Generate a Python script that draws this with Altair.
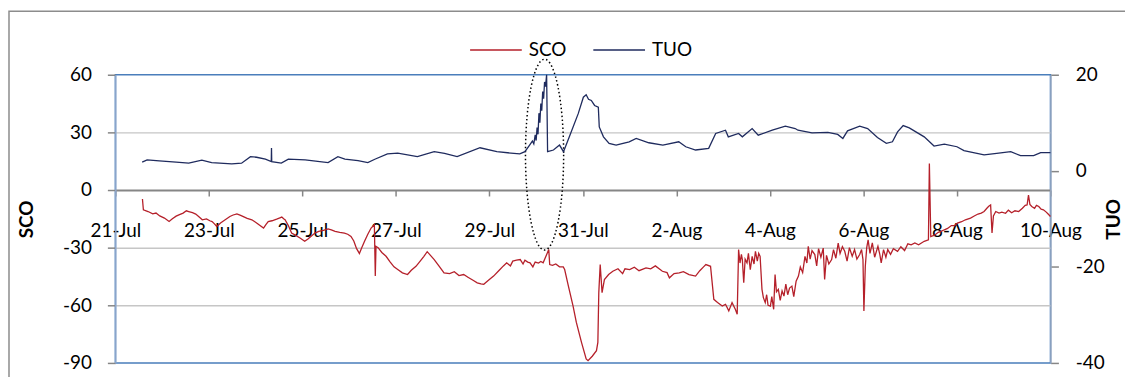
import altair as alt
import pandas as pd

# ---------------- data ----------------
# day offset from 21-Jul 00:00
sco_day = [0.58, 0.60, 0.70, 0.80, 0.87, 0.95, 1.05, 1.15, 1.22, 1.30, 1.36, 1.45, 1.52, 1.57, 1.65, 1.72,
           1.80, 1.86, 1.95, 2.02, 2.07, 2.12, 2.17, 2.25, 2.35, 2.45, 2.52, 2.60, 2.68, 2.75, 2.82, 2.92,
           3.00, 3.08, 3.17, 3.22, 3.27, 3.35, 3.45, 3.52, 3.56, 3.60, 3.63, 3.70, 3.77, 3.85, 3.95, 4.05,
           4.12, 4.20, 4.27, 4.35, 4.45, 4.55, 4.62, 4.70, 4.80, 4.90, 4.97, 5.04, 5.10, 5.16, 5.22, 5.27,
           5.33, 5.40, 5.47, 5.54, 5.56, 5.575, 5.62, 5.70, 5.79, 5.88, 5.96, 6.04, 6.14, 6.25, 6.33, 6.43,
           6.52, 6.60, 6.67, 6.74, 6.82, 6.92, 7.03, 7.15, 7.25, 7.35, 7.45, 7.55, 7.65, 7.74, 7.82, 7.88,
           7.98, 8.09, 8.20, 8.30, 8.37, 8.45, 8.50, 8.58, 8.66, 8.72, 8.76, 8.82, 8.87, 8.93, 8.98, 9.05,
           9.10, 9.15, 9.27, 9.29, 9.35, 9.42, 9.50, 9.58, 9.61, 9.69, 9.79, 9.86, 9.97, 10.07, 10.11, 10.20,
           10.29, 10.32, 10.34, 10.37, 10.41, 10.46, 10.55, 10.64, 10.75, 10.85, 10.90, 11.00, 11.10, 11.20,
           11.35, 11.45, 11.55, 11.70, 11.80, 11.85, 11.95, 12.06, 12.15, 12.27, 12.41, 12.50, 12.58, 12.63,
           12.73, 12.80, 12.88, 12.98, 13.05, 13.12, 13.19, 13.26, 13.30, 13.33,
           13.36, 13.39, 13.41, 13.44, 13.47, 13.51, 13.54, 13.58, 13.62, 13.66, 13.69, 13.73, 13.76, 13.79,
           13.83, 13.86, 13.90, 13.93, 13.96, 14.01, 14.04, 14.08, 14.11, 14.14, 14.18, 14.22, 14.26, 14.30,
           14.34, 14.38, 14.42, 14.47, 14.51, 14.56, 14.61, 14.65, 14.70, 14.75, 14.79, 14.82, 14.86, 14.90,
           14.96, 15.00, 15.04, 15.09, 15.14, 15.17, 15.21, 15.26, 15.32, 15.36, 15.41, 15.46, 15.50, 15.55,
           15.60, 15.65, 15.70, 15.76, 15.81, 15.86, 15.92, 15.96, 15.99, 16.01, 16.04, 16.07, 16.10, 16.14,
           16.19, 16.24, 16.31, 16.35, 16.38, 16.43, 16.48, 16.52, 16.58, 16.64, 16.73, 16.80, 16.88, 16.95,
           17.02, 17.10, 17.18, 17.30, 17.39, 17.41, 17.44, 17.52, 17.60, 17.66, 17.73, 17.80, 17.88, 17.95,
           18.01, 18.10, 18.18, 18.29, 18.37, 18.45, 18.52, 18.58, 18.64, 18.68, 18.72, 18.75, 18.78, 18.83,
           18.90, 18.96, 19.04, 19.10, 19.17, 19.24, 19.32, 19.40, 19.46, 19.50, 19.53, 19.56, 19.60, 19.66,
           19.70, 19.75, 19.80, 19.85, 19.91, 19.95, 20.00]
sco_val = [-4.7, -10.3, -11.2, -12.4, -12.0, -13.5, -14.6, -16.4, -15.0, -13.6, -12.9, -12.0, -10.8, -11.2, -11.8, -12.5,
           -14.2, -15.5, -15.0, -16.0, -16.4, -17.6, -19.0, -17.2, -15.5, -13.8, -13.0, -12.4, -13.2, -14.0, -14.8, -15.5,
           -16.8, -18.2, -19.8, -18.0, -16.4, -16.0, -15.2, -14.5, -14.1, -15.0, -15.5, -18.5, -22.4, -23.5, -25.0, -26.7,
           -25.5, -23.8, -22.4, -21.5, -21.0, -20.2, -20.7, -21.5, -22.0, -22.4, -23.0, -24.2, -26.5, -30.5, -33.0, -30.0,
           -26.7, -23.0, -19.8, -18.1, -44.8, -29.3, -30.0, -32.5, -34.5, -37.5, -40.0, -41.4, -43.1, -44.0, -41.8, -39.7,
           -37.0, -34.5, -32.1, -34.0, -36.2, -39.5, -43.1, -43.5, -42.5, -44.5, -44.0, -45.5, -47.0, -48.3, -48.8, -49.1,
           -47.0, -44.8, -42.0, -39.5, -37.9, -39.5, -37.0, -36.5, -36.2, -38.5, -36.5, -37.5, -37.9, -40.0, -37.5, -38.0,
           -37.2, -37.9, -31.0, -38.8, -39.2, -38.5, -40.0, -40.0, -41.4, -50.0, -60.4, -68.9, -79.3, -87.9, -88.8, -86.5,
           -83.6, -79.3, -53.4, -38.8, -53.4, -46.6, -44.0, -42.3, -41.0, -43.5, -41.0, -41.4, -40.2, -42.0,
           -40.5, -41.0, -39.5, -42.3, -43.0, -45.7, -43.5, -43.1, -42.5, -44.0, -44.8, -42.0, -40.0, -38.8,
           -39.7, -56.9, -58.5, -60.4, -59.5, -62.9, -58.6, -62.1, -64.7, -31.0,
           -38.0, -33.5, -36.2, -48.3, -36.0, -37.9, -33.0, -41.4, -34.5, -38.5, -31.9, -37.0, -33.0, -34.5,
           -51.7, -56.0, -58.6, -54.5, -60.0, -60.4, -55.5, -62.1, -44.0, -53.0, -51.7, -57.5, -52.5, -55.2,
           -49.0, -54.5, -51.0, -50.0, -55.5, -47.5, -44.8, -40.0, -43.0, -34.5, -38.0, -29.3, -36.0, -31.5,
           -33.6, -39.5, -30.5, -35.0, -30.2, -46.5, -34.0, -38.5, -36.2, -31.0, -35.5, -27.6, -33.0, -29.5,
           -31.9, -37.0, -30.0, -34.5, -31.0, -36.0, -33.6, -31.0, -36.2, -62.9, -39.7, -30.0, -25.9, -33.0,
           -27.5, -35.0, -29.3, -33.5, -37.9, -31.0, -35.0, -31.0, -33.5, -30.5, -31.9, -29.5, -31.5, -28.0,
           -28.5, -27.5, -28.5, -26.7, -25.9, 13.8, -24.2, -23.5, -22.0, -21.5, -20.7, -20.0, -18.5, -18.5,
           -17.2, -16.5, -15.5, -14.6, -13.5, -12.5, -12.0, -11.2, -9.5, -8.5, -7.8, -22.4, -13.5, -11.2,
           -12.0, -11.5, -12.1, -10.5, -11.8, -10.8, -11.2, -9.5, -8.0, -7.8, -2.6, -7.5, -8.6, -9.5,
           -8.0, -8.6, -10.0, -10.3, -11.5, -12.5, -13.8]

tuo_day = [0.574, 0.68, 0.94, 1.30, 1.57, 1.85, 2.06, 2.49, 2.70, 2.89, 3.02, 3.21, 3.335, 3.340, 3.345,
           3.55, 3.70, 4.06, 4.55, 4.76, 4.91, 5.19, 5.40, 5.55, 5.82, 6.04, 6.46, 6.82, 7.04, 7.31, 7.80,
           8.16, 8.65, 8.76, 8.86, 8.92, 8.95, 8.98, 9.00, 9.02, 9.04, 9.06, 9.08, 9.10, 9.12, 9.14, 9.16,
           9.18, 9.20, 9.224, 9.245, 9.37, 9.50, 9.585, 9.71, 9.90, 10.01, 10.07, 10.12, 10.18, 10.25, 10.33,
           10.35, 10.44, 10.56, 10.71, 10.99, 11.14, 11.41, 11.71, 12.05, 12.20, 12.41, 12.69, 12.84, 13.05,
           13.11, 13.33, 13.41, 13.62, 13.75, 14.05, 14.33, 14.54, 14.60, 14.90, 15.24, 15.45, 15.56, 15.66,
           15.92, 16.09, 16.30, 16.49, 16.62, 16.73, 16.85, 16.98, 17.30, 17.51, 17.73, 18.00, 18.15, 18.58,
           18.85, 19.15, 19.36, 19.64, 19.79, 20.00]
tuo_val = [1.79, 2.27, 2.06, 1.79, 1.59, 2.21, 1.71, 1.44, 1.59, 2.95, 2.82, 2.41, 1.92, 4.74, 1.90,
           1.59, 2.41, 2.27, 1.71, 2.95, 2.41, 2.12, 1.71, 2.41, 3.51, 3.70, 2.95, 3.98, 3.65, 2.95, 4.80,
           3.98, 3.51, 3.98, 5.36, 6.2, 5.6, 7.5, 6.3, 9.0, 7.6, 12.0, 10.0, 14.0, 12.5, 16.5, 15.0,
           18.5, 17.5, 20.0, 3.98, 4.33, 5.36, 3.98, 7.07, 11.90, 15.32, 15.82, 14.9, 14.64, 13.6, 13.26,
           9.13, 7.07, 5.71, 5.36, 6.04, 6.74, 5.84, 5.36, 6.04, 5.01, 4.33, 4.68, 7.77, 8.45,
           7.07, 7.77, 7.07, 8.80, 7.42, 8.45, 9.28, 8.80, 8.45, 7.90, 7.98, 7.57, 6.74, 8.31,
           9.28, 8.80, 6.95, 5.71, 6.04, 8.10, 9.42, 8.93, 7.07, 5.16, 5.57, 5.01, 4.19, 3.30,
           3.65, 3.98, 3.15, 3.15, 3.77, 3.77]

x_tick_values = [0, 2, 4, 6, 8, 10, 12, 14, 16, 18, 20]
x_tick_labels = ["21-Jul", "23-Jul", "25-Jul", "27-Jul", "29-Jul", "31-Jul",
                 "2-Aug", "4-Aug", "6-Aug", "8-Aug", "10-Aug"]
sco_ticks = [-90, -60, -30, 0, 30, 60]
tuo_ticks = [-40, -20, 0, 20]
series_names = ["SCO", "TUO"]

# dotted ellipse annotation centre (day, SCO value)
ellipse_day = [9.18]
ellipse_sco = [18.4]

# ---------------- styling ----------------
RED = "#B5202A"
NAVY = "#1F2B5E"
FONT = "Lato"
FS = 19
GRAY = "#868686"

sco_df = pd.DataFrame({"day": sco_day, "value": sco_val, "series": series_names[0]})
tuo_df = pd.DataFrame({"day": tuo_day, "value": tuo_val, "series": series_names[1]})
ell_df = pd.DataFrame({"day": ellipse_day, "value": ellipse_sco})

label_expr = "[" + ",".join("'%s'" % s for s in x_tick_labels) + "][round(datum.value/2)]"
num_expr = "datum.value < 0 ? '-' + abs(datum.value) : '' + datum.value"

x_enc = alt.X(
    "day:Q",
    scale=alt.Scale(domain=[0, 20], nice=False, zero=False),
    axis=alt.Axis(values=x_tick_values, labelExpr=label_expr, offset=-174, tickSize=6,
                  tickColor=GRAY, tickWidth=1.5, domainColor=GRAY, domainWidth=2,
                  labelPadding=26, labelFontSize=FS, labelFont=FONT, labelColor="black",
                  labelOverlap=False, labelBound=False, labelFlush=False, grid=False, title=None),
)

sco_y = alt.Y(
    "value:Q",
    scale=alt.Scale(domain=[-90, 60], nice=False, zero=False),
    axis=alt.Axis(orient="left", values=sco_ticks, labelExpr=num_expr, tickSize=8, tickColor=GRAY,
                  tickWidth=1.5, domainColor="#8FA8CC", domainWidth=1.5, labelPadding=16, labelFontSize=FS,
                  labelFont=FONT, labelColor="black", grid=True, gridColor="#C6C6C6", gridWidth=1.5,
                  gridOpacity={"condition": {"test": "datum.value == 60 || datum.value == -90 || datum.value == 0",
                                             "value": 0}, "value": 1},
                  title="SCO", titleFont=FONT, titleFontSize=FS, titleFontWeight="bold", titleColor="black",
                  titleAngle=270, titleX=-89, titleY=145, titleAlign="center", titleBaseline="middle"),
)

tuo_y = alt.Y(
    "value:Q",
    scale=alt.Scale(domain=[-40, 20], nice=False, zero=False),
    axis=alt.Axis(orient="right", values=tuo_ticks, labelExpr=num_expr, tickSize=8, tickColor=GRAY,
                  tickWidth=1.5, domainColor="#9AAAC2", domainWidth=1.5, labelPadding=17, labelFontSize=FS,
                  labelFont=FONT, labelColor="black", grid=False,
                  title="TUO", titleFont=FONT, titleFontSize=FS, titleFontWeight="bold", titleColor="black",
                  titleAngle=270, titleX=63, titleY=145, titleAlign="center", titleBaseline="middle"),
)

color_enc = alt.Color(
    "series:N",
    scale=alt.Scale(domain=series_names, range=[RED, NAVY]),
    legend=alt.Legend(orient="none", legendX=356, legendY=-52, direction="horizontal", title=None,
                      symbolType="stroke", symbolSize=2704, symbolStrokeWidth=2, symbolOpacity=0.75,
                      labelFontSize=FS, labelFont=FONT, labelColor="black", labelOffset=6,
                      columnPadding=23),
)

sco_line = alt.Chart(sco_df).mark_line(strokeWidth=1.3).encode(x=x_enc, y=sco_y, color=color_enc)

ellipse_path = ("M0.2,0C0.2,0.5523,0.1105,1,0,1C-0.1105,1,-0.2,0.5523,-0.2,0"
                "C-0.2,-0.5523,-0.1105,-1,0,-1C0.1105,-1,0.2,-0.5523,0.2,0Z")
ellipse = alt.Chart(ell_df).mark_point(
    shape=ellipse_path, size=192 * 192, filled=False, stroke="black", strokeWidth=1.5,
    strokeDash=[1.5, 2.5], opacity=1
).encode(x=x_enc, y=sco_y)

frame = alt.Chart(ell_df).mark_rect(filled=False, stroke="#8C8C8C", strokeWidth=1.5).encode(
    x=alt.value(-107), x2=alt.value(1100), y=alt.value(-64), y2=alt.value(420)
)

sco_layer = alt.layer(frame, sco_line, ellipse)

tuo_line = alt.Chart(tuo_df).mark_line(strokeWidth=1.3).encode(x=x_enc, y=tuo_y, color=color_enc)

chart = (
    alt.layer(sco_layer, tuo_line)
    .resolve_scale(y="independent")
    .properties(width=941, height=290,
                padding={"left": 108, "top": 66, "right": 75, "bottom": 13},
                autosize=alt.AutoSizeParams(type="none"))
    .configure(font=FONT)
    .configure_view(stroke="#4A7EBB", strokeWidth=1.5)
)

chart.save("out.html", embed_options={"renderer": "svg", "actions": False})
